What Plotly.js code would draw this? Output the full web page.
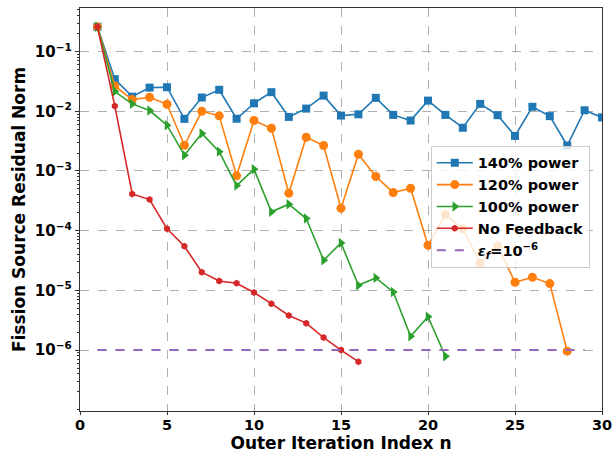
<!DOCTYPE html>
<html><head><meta charset="utf-8">
<script src="https://cdn.plot.ly/plotly-3.0.1.min.js"></script>
<style>body{margin:0;padding:0;background:#fff}#chart{width:612px;height:454px}</style>
</head><body><div id="chart"></div>
<script>
const iterBlue = [1,2,3,4,5,6,7,8,9,10,11,12,13,14,15,16,17,18,19,20,21,22,23,24,25,26,27,28,29,30];
const power140 = [0.26,0.0345,0.0176,0.0249,0.0253,0.00747,0.0170,0.0229,0.0075,0.0136,0.0209,0.00805,0.0111,0.0183,0.00848,0.0089,0.0168,0.0087,0.0070,0.0151,0.0087,0.0053,0.0133,0.0086,0.00387,0.0119,0.0083,0.00267,0.0104,0.0079];
const iterOrange = [1,2,3,4,5,6,7,8,9,10,11,12,13,14,15,16,17,18,19,20,21,22,23,24,25,26,27,28];
const power120 = [0.26,0.0266,0.0157,0.0172,0.0131,0.0027,0.0100,0.0084,0.00083,0.0070,0.0052,0.000425,0.00368,0.00267,0.000238,0.00191,0.00081,0.000436,0.000515,5.7e-5,0.000186,0.000107,2.85e-5,5.56e-5,1.37e-5,1.66e-5,1.30e-5,9.6e-7];
const iterGreen = [1,2,3,4,5,6,7,8,9,10,11,12,13,14,15,16,17,18,19,20,21];
const power100 = [0.26,0.0214,0.0133,0.0103,0.00585,0.00184,0.00424,0.00211,0.000569,0.00107,0.000207,0.000278,0.00016,3.2e-5,6.25e-5,1.22e-5,1.62e-5,9.4e-6,1.7e-6,3.63e-6,7.9e-7];
const iterRed = [1,2,3,4,5,6,7,8,9,10,11,12,13,14,15,16];
const noFeedback = [0.26,0.0123,0.000413,0.000332,0.000108,5.5e-5,2.02e-5,1.44e-5,1.32e-5,9.2e-6,6.0e-6,3.8e-6,2.83e-6,1.62e-6,1.0e-6,6.4e-7];
const tolX = [1,29];
const tolY = [1e-6,1e-6];
const seriesNames = ["140% power","120% power","100% power","No Feedback","<i>ε<sub>f</sub></i>=10<sup>−6</sup>"];
const yTickVals = [1e-1,1e-2,1e-3,1e-4,1e-5,1e-6];
const yTickText = ["10<sup>−1</sup>","10<sup>−2</sup>","10<sup>−3</sup>","10<sup>−4</sup>","10<sup>−5</sup>","10<sup>−6</sup>"];
const xTickVals = [0,5,10,15,20,25,30];
const xTickText = ["0","5","10","15","20","25","30"];

const traces = [
  {x: iterBlue, y: power140, name: seriesNames[0], mode:'lines+markers',
   line:{color:'#1f77b4', width:1.6}, marker:{symbol:'square', size:8, color:'#1f77b4'}},
  {x: iterOrange, y: power120, name: seriesNames[1], mode:'lines+markers',
   line:{color:'#ff7f0e', width:1.6}, marker:{symbol:'circle', size:9, color:'#ff7f0e'}},
  {x: iterGreen, y: power100, name: seriesNames[2], mode:'lines+markers',
   line:{color:'#2ca02c', width:1.6}, marker:{symbol:'triangle-right', size:9, color:'#2ca02c'}},
  {x: iterRed, y: noFeedback, name: seriesNames[3], mode:'lines+markers',
   line:{color:'#d62728', width:1.6}, marker:{symbol:'hexagon', size:7, color:'#d62728'}},
  {x: tolX, y: tolY, name: seriesNames[4], mode:'lines',
   line:{color:'#9467bd', width:2, dash:'dash'}}
];
const layout = {
  width:612, height:454,
  margin:{l:80, r:10, t:8, b:43},
  paper_bgcolor:'#fff', plot_bgcolor:'#fff',
  font:{family:'DejaVu Sans', size:14, color:'#000'},
  showlegend:true,
  legend:{x:0.672, y:0.658, xanchor:'left', yanchor:'top', itemwidth:36,
    bgcolor:'rgba(255,255,255,0.8)', bordercolor:'#cccccc', borderwidth:1,
    font:{family:'DejaVu Sans', size:14.5, weight:'bold', color:'#000'}, tracegroupgap:0},
  xaxis:{range:[0,30], tickvals:xTickVals, ticktext:xTickText, ticks:'outside', ticklen:3, tickwidth:1,
    ticklabeloverflow:'allow', ticklabelstandoff:-3,
    tickcolor:'#333', showline:true, linecolor:'#333', linewidth:1.2, mirror:true,
    showgrid:true, gridcolor:'#b0b0b0', griddash:'dash', gridwidth:1, zeroline:false,
    tickfont:{family:'DejaVu Sans', size:14.5, weight:'bold', color:'#000'},
    title:{text:'Outer Iteration Index n', font:{family:'DejaVu Sans', size:17, weight:'bold', color:'#000'}, standoff:4}},
  yaxis:{type:'log', range:[-7.02,-0.27], tickvals:yTickVals, ticktext:yTickText,
    ticks:'outside', ticklen:4, tickwidth:1, tickcolor:'#333',
    showline:true, linecolor:'#333', linewidth:1.2, mirror:true,
    showgrid:true, gridcolor:'#b0b0b0', griddash:'dash', gridwidth:1, zeroline:false,
    minor:{ticks:'outside', ticklen:2, tickcolor:'#333', dtick:'D1', showgrid:false},
    tickfont:{family:'DejaVu Sans', size:15, weight:'bold', color:'#000'},
    title:{text:'Fission Source Residual Norm', font:{family:'DejaVu Sans', size:17, weight:'bold', color:'#000'}, standoff:4}}
};
Plotly.newPlot('chart', traces, layout, {displayModeBar:false, staticPlot:true});
</script></body></html>
